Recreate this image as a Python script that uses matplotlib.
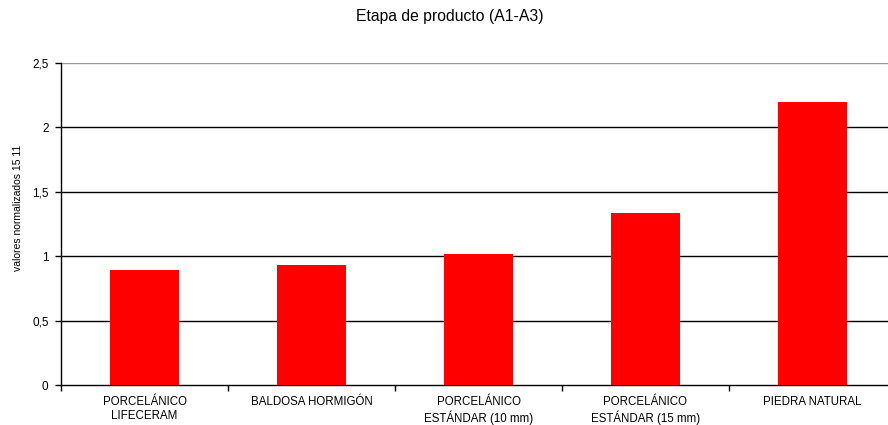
import matplotlib
matplotlib.use("Agg")
import matplotlib.pyplot as plt
import numpy as np

categories = ["PORCELÁNICO\nLIFECERAM", "BALDOSA HORMIGÓN", "PORCELÁNICO\nESTÁNDAR (10 mm)",
              "PORCELÁNICO\nESTÁNDAR (15 mm)", "PIEDRA NATURAL"]
values = [0.89, 0.93, 1.02, 1.335, 2.195]
yticks = [0, 0.5, 1, 1.5, 2, 2.5]
ytick_labels = ["0", "0,5", "1", "1,5", "2", "2,5"]

plt.rcParams['font.family'] = ['Liberation Sans', 'DejaVu Sans']

fig = plt.figure(figsize=(8.88, 4.25), dpi=100)
ax = fig.add_axes([61/888, 40/425, 835/888, 322/425])

x = np.arange(len(categories))
ax.bar(x, values, width=0.41, color="#ff0000", zorder=3)
ax.set_xlim(-0.5, len(categories) - 0.5)
ax.set_ylim(0, 2.5)
ax.set_yticks(yticks)
ax.set_yticklabels(ytick_labels, fontsize=8.5)
for y in yticks[1:-1]:
    ax.axhline(y, color="black", lw=1.0, zorder=1)
ax.axhline(2.5, color="#999999", lw=1.0, zorder=1)

ax.set_xticks(np.arange(-0.5, len(categories)), minor=False)
ax.set_xticklabels([])
ax.set_xticks(x, minor=True)
ax.set_xticklabels(categories, minor=True, fontsize=8.3, linespacing=1.2)
ax.tick_params(axis='x', which='minor', length=0, pad=8)
ax.tick_params(axis='x', which='major', length=4, direction='out', width=1)
ax.tick_params(axis='y', length=4, width=1, pad=5)

for s in ["top", "right"]:
    ax.spines[s].set_visible(False)
ax.spines["left"].set_linewidth(1.0)
ax.spines["bottom"].set_linewidth(1.0)

ax.set_ylabel("valores normalizados 15 11", fontsize=7.5)
ax.yaxis.set_label_coords(-0.046, 0.55)
fig.text(450/888, 1 - 17/425, "Etapa de producto (A1-A3)", fontsize=11.3, ha="center", va="center")

fig.savefig("out.png", dpi=100)
